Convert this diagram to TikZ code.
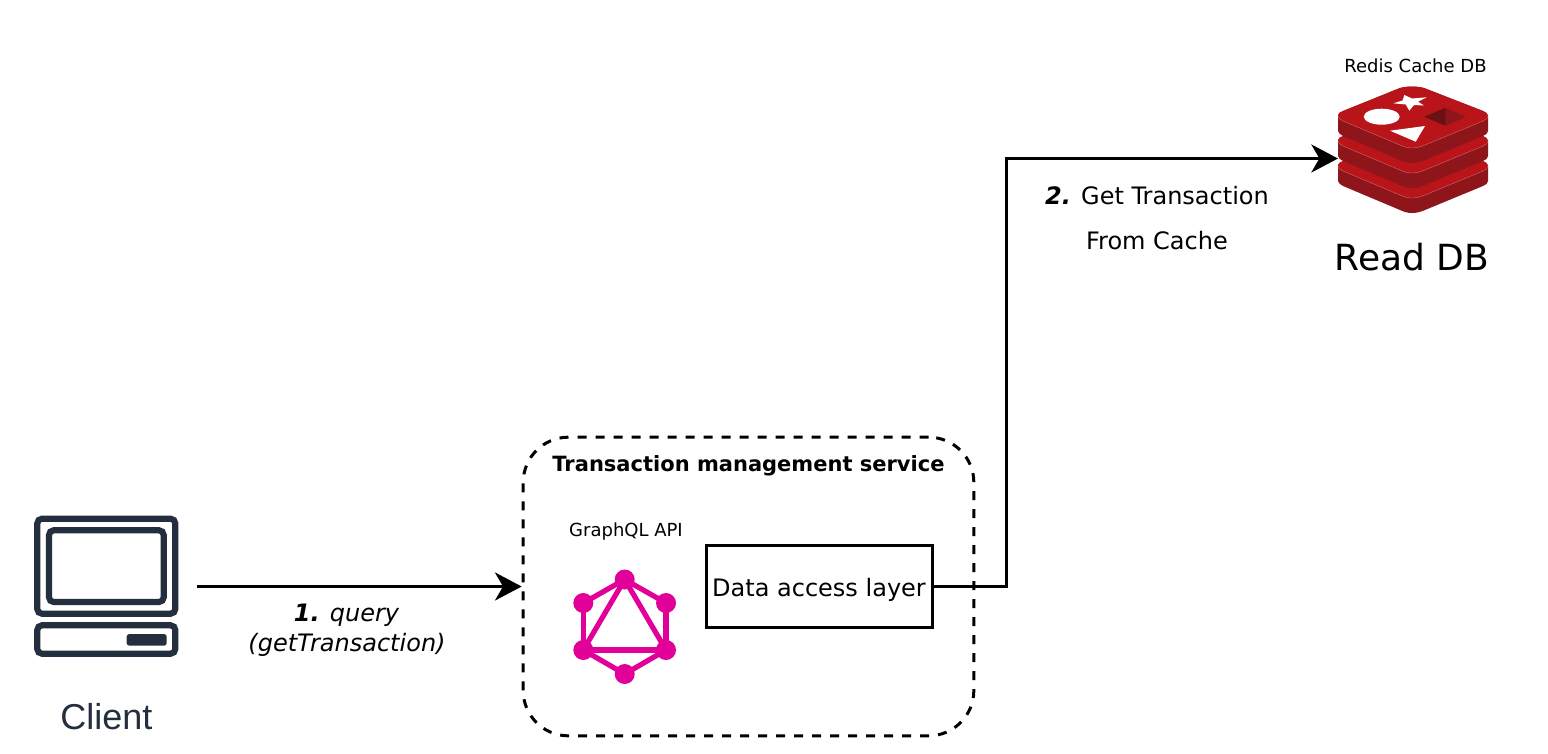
\documentclass[tikz,border=0pt]{standalone}
\usepackage{fontspec}
\setmainfont{DejaVu Sans}
\newfontfamily\iconfont{Liberation Sans}
\usepackage{xcolor}
\usetikzlibrary{arrows.meta}
\definecolor{awsdark}{HTML}{232F3E}
\definecolor{gqlpink}{HTML}{E10098}
\definecolor{redistop}{HTML}{B8141A}
\definecolor{redisside}{HTML}{8E161B}

\tikzset{
    flow/.style={draw, line width=2.25pt, -{Stealth[length=20pt, width=21pt, inset=6pt]}},
    iconbox/.style={inner sep=0pt, outer sep=0pt},
    gqldot/.style={circle, fill=gqlpink, inner sep=0pt, minimum size=15pt},
    gqlline/.style={draw=gqlpink, line width=3.9pt},
    screen/.style={draw=awsdark, line width=4.6pt, rounded corners=3.5pt}
}

% one slab of the cache icon
\newcommand{\redislayer}[1]{
    \begin{scope}[yshift=#1]
    \fill[redisside] (1338,115) .. controls (1338,113) and (1341,112) .. (1343,111) -- (1400,88) .. controls (1408,86) and (1416,86) .. (1424,88) -- (1483,111) .. controls (1486,112) and (1488,114) .. (1488,116) -- (1488,131) .. controls (1488,133) and (1486,135) .. (1483,136) -- (1425,160) .. controls (1416,164) and (1408,164) .. (1400,160) -- (1343,136) .. controls (1341,135) and (1338,133) .. (1338,131) -- cycle;
    \fill[redistop] (1338,115) .. controls (1338,113) and (1341,112) .. (1343,111) -- (1400,88) .. controls (1408,86) and (1416,86) .. (1424,88) -- (1483,111) .. controls (1486,112) and (1488,114) .. (1488,116) .. controls (1488,118) and (1486,120) .. (1483,121) -- (1425,145) .. controls (1416,149) and (1408,149) .. (1400,145) -- (1343,121) .. controls (1341,120) and (1338,118) .. (1338,116) -- cycle;
    \draw[redistop!60!white, line width=0.25pt] (1488,116) .. controls (1488,118) and (1486,120) .. (1483,121) -- (1425,145) .. controls (1416,149) and (1408,149) .. (1400,145) -- (1343,121) .. controls (1341,120) and (1338,118) .. (1338,116);
    \end{scope}
}

\begin{document}
\begin{tikzpicture}[x=0.75pt, y=-0.75pt]
    \useasboundingbox (0,0) rectangle (1548,753);

    % Define nodes
    \node [iconbox, minimum width=136.5pt, minimum height=106pt] (client) at (106,586.5) {};
    \node [text=awsdark, font=\iconfont\fontsize{27}{30}\selectfont] (clientlabel) at (106.5,717) {Client};

    \node [draw, dash pattern=on 6.75pt off 6.75pt, line width=2.25pt, rounded corners=34pt, minimum width=338pt, minimum height=224pt] (service) at (748.5,586.5) {};
    \node [font=\bfseries\fontsize{15.75}{18}\selectfont] (servicelabel) at (748.5,466) {Transaction management service};
    \node [font=\fontsize{13.5}{16}\selectfont] (gqllabel) at (626,532) {GraphQL API};
    \node [draw, line width=2.25pt, minimum width=169.5pt, minimum height=61pt, font=\fontsize{18}{22}\selectfont, text depth=0pt, text height=15.3pt] (dal) at (819,586.5) {Data access layer};

    \node [iconbox, minimum width=112.5pt, minimum height=95pt] (redis) at (1413,158.5) {};
    \node [font=\fontsize{13.5}{16}\selectfont] (redislabel) at (1415.5,66) {Redis Cache DB};
    \node [font=\fontsize{27}{32}\selectfont] (readdb) at (1412,257) {Read DB};

    \node [font=\itshape\fontsize{18}{22}\selectfont] (querylabel) at (346.5,615) {\textbf{1.} query};
    \node [font=\itshape\fontsize{18}{22}\selectfont] (querylabelb) at (347,645) {(getTransaction)};
    \node [font=\fontsize{18}{22}\selectfont] (cachelabel) at (1157,196) {\textbf{\textit{2.}} Get Transaction};
    \node [font=\fontsize{18}{22}\selectfont] (cachelabelb) at (1157,241) {From Cache};

    % Client icon
    \draw [screen] (37.3,518.7) rectangle (175.3,613.7);
    \draw [screen] (49,530.3) rectangle (163.7,602);
    \draw [screen] (37.3,625.3) rectangle (175.3,653.7);
    \fill [awsdark, rounded corners=2pt] (126.7,634) rectangle (166.7,645.7);

    % GraphQL icon
    \node [gqldot] (gqltop) at (624.7,579.5) {};
    \node [gqldot] (gqlul) at (583.3,603) {};
    \node [gqldot] (gqlur) at (666,603) {};
    \node [gqldot] (gqlll) at (583.3,650) {};
    \node [gqldot] (gqllr) at (666,650) {};
    \node [gqldot] (gqlbot) at (624.7,674) {};
    \foreach \a/\b in {gqltop/gqlul, gqlul/gqlll, gqlll/gqlbot, gqlbot/gqllr, gqllr/gqlur, gqlur/gqltop, gqltop/gqlll, gqlll/gqllr, gqllr/gqltop}
        \draw [gqlline] (\a.center) -- (\b.center);

    % Redis icon
    \redislayer{-37.5pt}
    \redislayer{-18.75pt}
    \redislayer{0pt}
    \fill [white] (1381.7,116.7) ellipse (18 and 8);
    \fill [white] (1390,130.7) -- (1425,126) -- (1415.7,141.7) -- cycle;
    \fill [white] (1393.3,103.3) -- (1402.5,100.5) -- (1404.3,95) -- (1412,98.5) -- (1426.7,97.3) -- (1418,101.7) -- (1424,105.5) -- (1414,105) -- (1409.3,110.7) -- (1405.7,104.5) -- cycle;
    \fill [redisside] (1445.7,107.7) -- (1465.7,116.7) -- (1445.7,126) -- cycle;
    \fill [black!25!redisside] (1445.7,107.7) -- (1424.3,116.7) -- (1445.7,126) -- cycle;

    % Draw edges
    \draw [flow] (client.east) -- (service.west);
    \draw [flow] (dal.east) -- ++(73,0) |- (redis.west);
\end{tikzpicture}
\end{document}
